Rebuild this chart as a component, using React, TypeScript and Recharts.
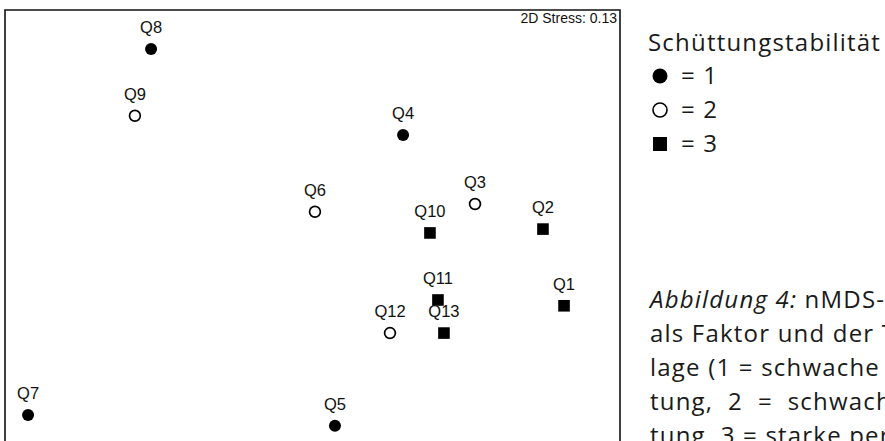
import React from 'react';
import { ScatterChart, Scatter, XAxis, YAxis, ReferenceArea } from 'recharts';

// nMDS ordination scores per stability class (Schüttungstabilität)
const class1Sites = [
  { name: 'Q8', x: -1.05, y: 1.237 },
  { name: 'Q4', x: 0.589, y: 0.657 },
  { name: 'Q7', x: -1.85, y: -1.231 },
  { name: 'Q5', x: 0.146, y: -1.303 },
];
const class2Sites = [
  { name: 'Q9', x: -1.155, y: 0.787 },
  { name: 'Q6', x: 0.016, y: 0.14 },
  { name: 'Q3', x: 1.057, y: 0.192 },
  { name: 'Q12', x: 0.504, y: -0.678 },
];
const class3Sites = [
  { name: 'Q10', x: 0.764, y: -0.003 },
  { name: 'Q2', x: 1.499, y: 0.023 },
  { name: 'Q11', x: 0.816, y: -0.455 },
  { name: 'Q1', x: 1.636, y: -0.494 },
  { name: 'Q13', x: 0.855, y: -0.678 },
];
const xDomain: [number, number] = [-2, 2];
const yDomain: [number, number] = [-1.5, 1.5];
const stressLabel = '2D Stress: 0.13';
const legendTitle = 'Schüttungstabilität';
const legendLabels = ['= 1', '= 2', '= 3'];
const captionLines = [
  'als Faktor und der Temperatur als Über-',
  'lage (1 = schwache periodische Schüt-',
  'tung,  2  =  schwache konstante Schüt-',
  'tung, 3 = starke periodische Schüttung)',
];

const labelStyle = {
  fontFamily: '"Liberation Sans", Arial, sans-serif',
  fontSize: 16.5,
  fill: '#111',
};

const Label = ({ cx, cy, name }: any) => (
  <text x={cx} y={cy - 16} textAnchor="middle" style={labelStyle}>
    {name}
  </text>
);

const FilledShape = (props: any) => (
  <g>
    <circle cx={props.cx} cy={props.cy} r={6} fill="#000" />
    <Label cx={props.cx} cy={props.cy} name={props.payload?.name} />
  </g>
);
const OpenShape = (props: any) => (
  <g>
    <circle cx={props.cx} cy={props.cy} r={5.4} fill="#fff" stroke="#000" strokeWidth={1.7} />
    <Label cx={props.cx} cy={props.cy} name={props.payload?.name} />
  </g>
);
const SquareShape = (props: any) => (
  <g>
    <rect x={props.cx - 5.8} y={props.cy - 5.8} width={11.6} height={11.6} fill="#000" />
    <Label cx={props.cx} cy={props.cy} name={props.payload?.name} />
  </g>
);

const textFont = {
  fontFamily: '"Open Sans", "Noto Sans", sans-serif',
  fontSize: 24,
  letterSpacing: 1.2,
  fill: '#1a1a1a',
};

export default function App() {
  return (
    <div
      style={{
        position: 'fixed',
        left: 0,
        top: 0,
        width: 885,
        height: 441,
        overflow: 'hidden',
        background: '#fff',
      }}
    >
      <div style={{ position: 'absolute', left: 0, top: 0 }}>
        <ScatterChart width={885} height={460} margin={{ top: 10, right: 265, bottom: 5, left: 5 }}>
          <XAxis type="number" dataKey="x" domain={xDomain} hide allowDataOverflow />
          <YAxis type="number" dataKey="y" domain={yDomain} hide allowDataOverflow />
          <ReferenceArea
            x1={xDomain[0]}
            x2={xDomain[1]}
            y1={yDomain[0]}
            y2={yDomain[1]}
            fill="none"
            fillOpacity={0}
            stroke="#111"
            strokeWidth={1.6}
            ifOverflow="visible"
          />
          <Scatter name="1" data={class1Sites} shape={FilledShape} isAnimationActive={false} />
          <Scatter name="2" data={class2Sites} shape={OpenShape} isAnimationActive={false} />
          <Scatter name="3" data={class3Sites} shape={SquareShape} isAnimationActive={false} />
        </ScatterChart>
      </div>
      <svg
        width={885}
        height={441}
        style={{ position: 'absolute', left: 0, top: 0, pointerEvents: 'none' }}
      >
        <text
          x={617}
          y={23}
          textAnchor="end"
          style={{ fontFamily: '"Liberation Sans", Arial, sans-serif', fontSize: 14, fill: '#111' }}
        >
          {stressLabel}
        </text>
        <text x={648} y={51} style={textFont}>
          {legendTitle}
        </text>
        <circle cx={660} cy={76} r={7.5} fill="#000" />
        <circle cx={660} cy={110} r={7} fill="none" stroke="#000" strokeWidth={1.6} />
        <rect x={653} y={137} width={14} height={14} fill="#000" />
        {legendLabels.map((l, i) => (
          <text key={l} x={681} y={84 + i * 34} style={textFont}>
            {l}
          </text>
        ))}
        <text x={650} y={308} style={textFont}>
          <tspan fontStyle="italic">Abbildung 4:</tspan>
          <tspan> nMDS-Ordination mit</tspan>
        </text>
        {captionLines.map((l, i) => (
          <text key={i} x={650} y={342 + i * 34} style={{ ...textFont, whiteSpace: 'pre' }}>
            {l}
          </text>
        ))}
      </svg>
    </div>
  );
}
